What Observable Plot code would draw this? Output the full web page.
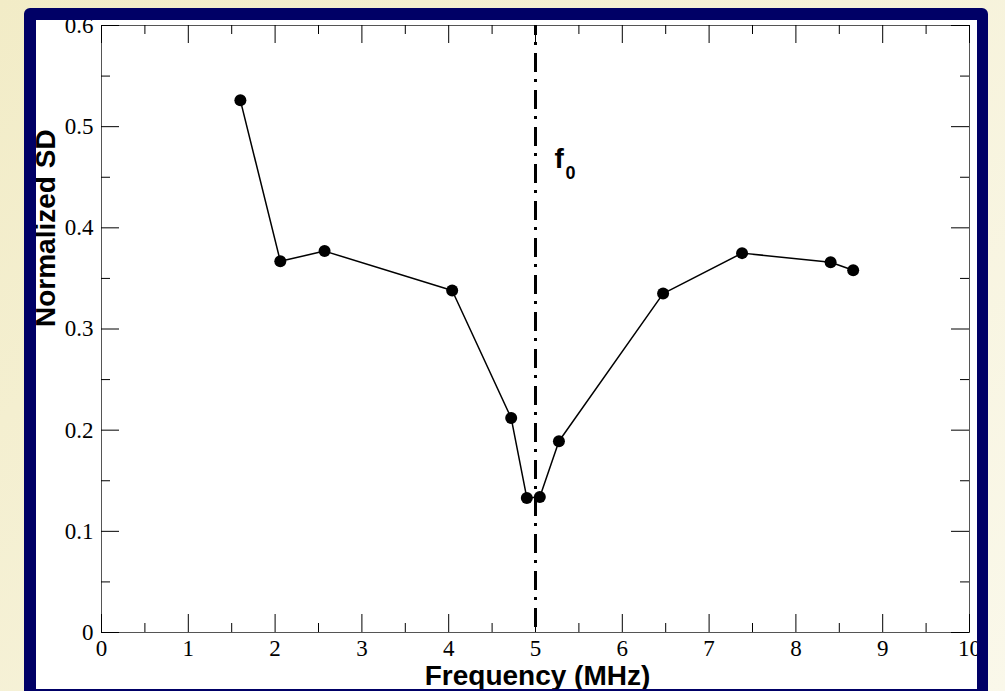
<!DOCTYPE html>
<html>
<head>
<meta charset="utf-8">
<script src="https://cdn.jsdelivr.net/npm/d3@7"></script>
<script src="https://cdn.jsdelivr.net/npm/@observablehq/plot@0.6"></script>
<style>
  html, body { margin: 0; padding: 0; width: 1005px; height: 691px; overflow: hidden; }
  body { position: relative; background: linear-gradient(135deg, #f2ecc7 0%, #f6f2d9 50%, #faf8ea 100%); }
  #white { position: absolute; left: 36px; top: 20px; width: 941px; height: 680px; background: #ffffff; }
  #chart { position: absolute; left: 0; top: 0; }
  #frame { position: absolute; left: 24px; top: 8px; width: 941px; height: 669px;
           border-style: solid; border-color: #000066; border-width: 12px 11px 12px 12px;
           border-radius: 6px 6px 0 0; pointer-events: none; }
</style>
</head>
<body>
<div id="white"></div>
<div id="chart"></div>
<div id="frame"></div>
<script>
// Data
const frequency = [1.6, 2.06, 2.57, 4.04, 4.72, 4.9, 5.05, 5.27, 6.47, 7.38, 8.4, 8.66];
const normalizedSD = [0.526, 0.367, 0.377, 0.338, 0.212, 0.133, 0.134, 0.189, 0.335, 0.375, 0.366, 0.358];
const f0 = 5;

// Ticks
const xMajor = [0, 1, 2, 3, 4, 5, 6, 7, 8, 9, 10];
const xTickLabels = ["0", "1", "2", "3", "4", "5", "6", "7", "8", "9", "10"];
const xMinor = [0.5, 1.5, 2.5, 3.5, 4.5, 5.5, 6.5, 7.5, 8.5, 9.5];
const yMajor = [0, 0.1, 0.2, 0.3, 0.4, 0.5, 0.6];
const yTickLabels = ["0", "0.1", "0.2", "0.3", "0.4", "0.5", "0.6"];
const yMinor = [0.05, 0.15, 0.25, 0.35, 0.45, 0.55];

const xTitle = "Frequency (MHz)";
const yTitle = "Normalized SD";

const W = 1005, H = 691;
const mL = 101, mR = 36, mT = 25, mB = 59;
const frameW = W - mL - mR, frameH = H - mT - mB;
const majorLen = 18, minorLen = 9;

const points = frequency.map((f, i) => ({f, sd: normalizedSD[i]}));
const xTicks = xMajor.map((v, i) => ({v, label: xTickLabels[i]}));
const yTicks = yMajor.map((v, i) => ({v, label: yTickLabels[i]}));

const serif = "'Liberation Serif', 'Times New Roman', serif";
const sans = "'Liberation Sans', Arial, sans-serif";

const chart = Plot.plot({
  width: W, height: H,
  marginLeft: mL, marginRight: mR, marginTop: mT, marginBottom: mB,
  style: {background: "transparent", overflow: "visible"},
  x: {domain: [0, 10], axis: null},
  y: {domain: [0, 0.6], axis: null},
  marks: [
    Plot.frame({stroke: "#555555", strokeWidth: 1}),
    // bottom/top x ticks
    Plot.tickX(xMajor, {x: d => d, insetTop: frameH - majorLen, stroke: "black"}),
    Plot.tickX(xMinor, {x: d => d, insetTop: frameH - minorLen, stroke: "black"}),
    Plot.tickX(xMajor, {x: d => d, insetBottom: frameH - majorLen, stroke: "black"}),
    Plot.tickX(xMinor, {x: d => d, insetBottom: frameH - minorLen, stroke: "black"}),
    // left/right y ticks
    Plot.tickY(yMajor, {y: d => d, insetRight: frameW - majorLen, stroke: "black"}),
    Plot.tickY(yMinor, {y: d => d, insetRight: frameW - minorLen, stroke: "black"}),
    Plot.tickY(yMajor, {y: d => d, insetLeft: frameW - majorLen, stroke: "black"}),
    Plot.tickY(yMinor, {y: d => d, insetLeft: frameW - minorLen, stroke: "black"}),
    // tick labels
    Plot.text(xTicks, {x: "v", text: "label", frameAnchor: "bottom", lineAnchor: "top", dy: 7,
      fontFamily: serif, fontSize: 23, fill: "black"}),
    Plot.text(yTicks, {y: "v", text: "label", frameAnchor: "left", textAnchor: "end", lineAnchor: "middle", dx: -8,
      fontFamily: serif, fontSize: 23, fill: "black"}),
    // f0 line
    Plot.ruleX([f0], {stroke: "black", strokeWidth: 3, strokeDasharray: "19,7,3,8", strokeDashoffset: 9}),
    Plot.text([f0], {x: d => d, text: () => "f", frameAnchor: "top", textAnchor: "start", lineAnchor: "bottom",
      dx: 19, dy: 142, fontFamily: sans, fontWeight: "bold", fontSize: 28, fill: "black"}),
    Plot.text([f0], {x: d => d, text: () => "0", frameAnchor: "top", textAnchor: "start", lineAnchor: "bottom",
      dx: 30, dy: 153, fontFamily: sans, fontWeight: "bold", fontSize: 18, fill: "black"}),
    // data
    Plot.line(points, {x: "f", y: "sd", stroke: "black", strokeWidth: 1.5}),
    Plot.dot(points, {x: "f", y: "sd", r: 6, fill: "black", stroke: "none"}),
    // axis titles
    Plot.text([xTitle], {text: d => d, frameAnchor: "bottom", lineAnchor: "bottom", dx: 2, dy: 52,
      fontFamily: sans, fontWeight: "bold", fontSize: 28, fill: "black"}),
    Plot.text([yTitle], {text: d => d, frameAnchor: "left", lineAnchor: "bottom", rotate: -90, dx: -47, dy: -2,
      fontFamily: sans, fontWeight: "bold", fontSize: 28, fill: "black"})
  ]
});
document.getElementById("chart").appendChild(chart);
</script>
</body>
</html>
